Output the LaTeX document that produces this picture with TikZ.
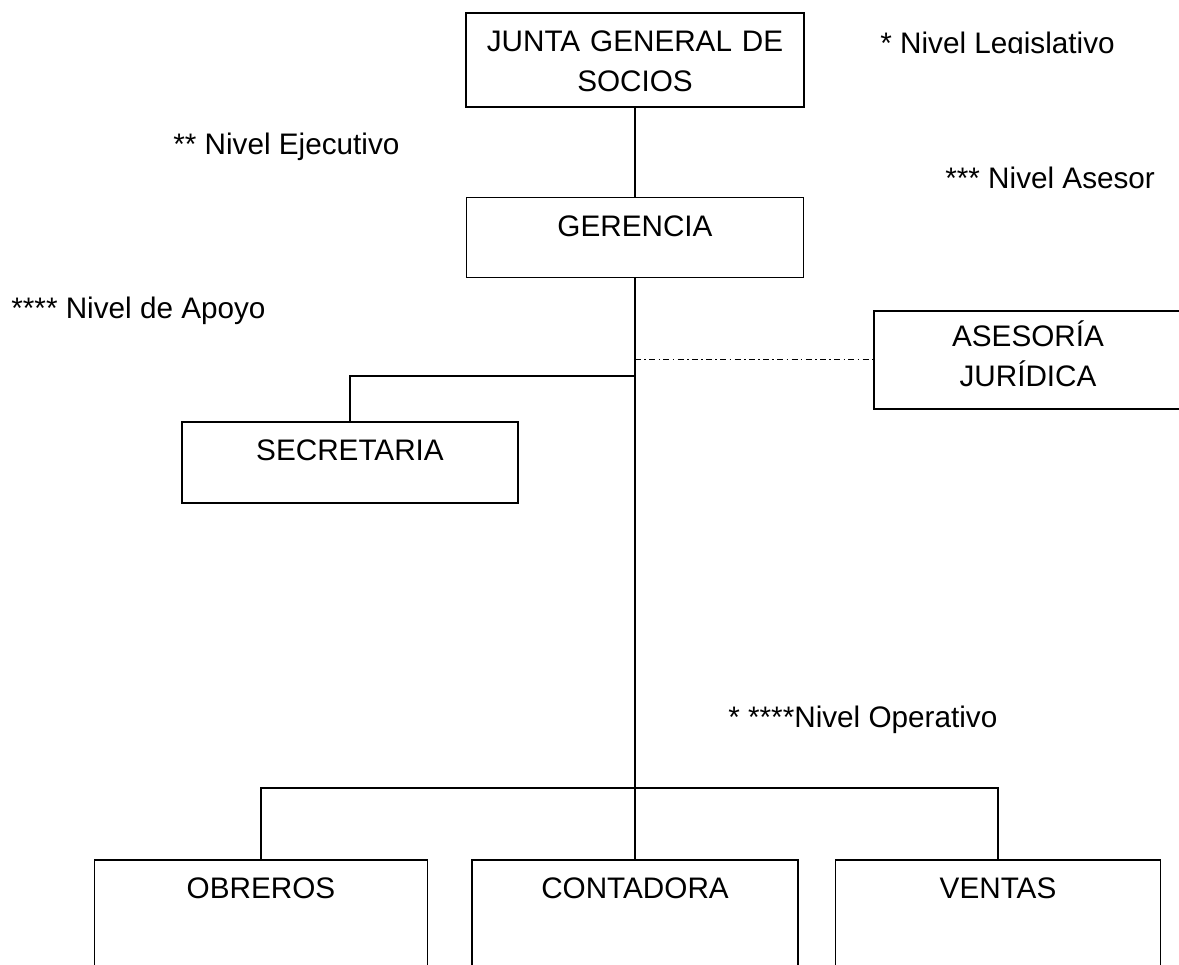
\documentclass[tikz,border=0pt]{standalone}
\usepackage{fontspec}
\setmainfont{Liberation Sans}
\usepackage{tikz}
\usetikzlibrary{positioning}

\begin{document}
\begin{tikzpicture}[x=0.02cm,y=-0.02cm,font=\fontsize{16.9}{22.6}\selectfont,
  caja/.style={draw,line width=0.9pt,inner sep=0pt,align=center,text height=0.78cm},
  linea/.style={line width=0.8pt},
  punteada/.style={line width=0.75pt,dash pattern=on 3.4pt off 1.9pt on 0.9pt off 1.9pt}]
\useasboundingbox (0,0) rectangle (1179,964);
\clip (0,0) rectangle (1179,964);

\node (junta) at (635,12) [caja,anchor=north,text width=6.76cm,text depth=1.10cm] {JUNTA GENERAL DE\\SOCIOS};
\node (gerencia) [below=1.78cm of junta,caja,text width=6.74cm,text depth=0.82cm] {GERENCIA};
\node (secretaria) at (350,421) [caja,anchor=north,text width=6.72cm,text depth=0.84cm] {SECRETARIA};
\node (asesoria) at (1028,310) [caja,anchor=north,text width=6.16cm,text height=0.72cm,text depth=1.24cm] {ASESORÍA\\JURÍDICA};
\node (contadora) [below=11.62cm of gerencia,caja,text width=6.52cm,text depth=3.22cm] {CONTADORA};
\node (obreros) [left=0.86cm of contadora,caja,text width=6.66cm,text depth=3.22cm] {OBREROS};
\node (ventas) [right=0.72cm of contadora,caja,text width=6.5cm,text depth=3.22cm] {VENTAS};

\begin{scope}
\clip (860,0) rectangle (1179,53);
\node (legislativo) at (880,53) [anchor=base west,inner sep=0pt] {* Nivel Legislativo};
\end{scope}
\node (ejecutivo) at (173,154) [anchor=base west,inner sep=0pt] {** Nivel Ejecutivo};
\node (asesor) at (945,188) [anchor=base west,inner sep=0pt] {*** Nivel Asesor};
\node (apoyo) at (11,318) [anchor=base west,inner sep=0pt] {**** Nivel de Apoyo};
\node (operativo) at (728,727) [anchor=base west,inner sep=0pt] {* ****Nivel Operativo};

\coordinate (ramal) at (gerencia.south |- 0,376);
\coordinate (barra) at (gerencia.south |- 0,788);

\draw[linea] (junta) -- (gerencia);
\draw[linea] (gerencia) -- (contadora);
\draw[linea] (ramal) -| (secretaria);
\draw[punteada] (gerencia.south |- asesoria.west) -- (asesoria);
\draw[linea] (obreros.north) |- (barra) -| (ventas.north);
\end{tikzpicture}
\end{document}
